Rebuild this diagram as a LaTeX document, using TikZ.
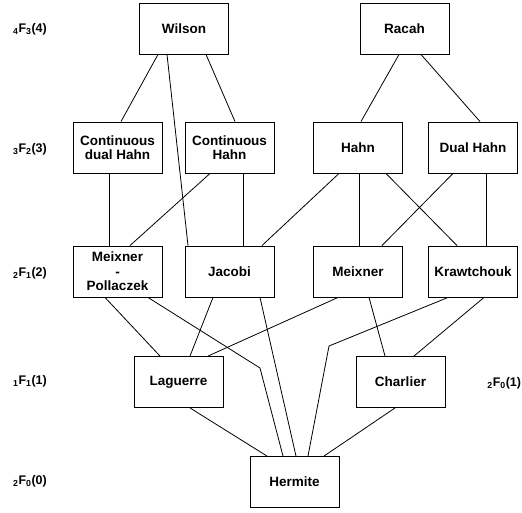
\documentclass[tikz,border=0pt]{standalone}
\usepackage{fontspec}
\setmainfont{Liberation Sans}
\usetikzlibrary{positioning}

\begin{document}
\begin{tikzpicture}[x=1pt, y=-1pt,
	box/.style={rectangle, draw, line width=0.9pt, minimum width=89pt, minimum height=51pt,
		inner sep=1pt, align=center, font=\fontsize{13.5}{14.5}\selectfont\bfseries},
	lvl/.style={font=\fontsize{12.5}{14}\selectfont\bfseries},
	line width=0.8pt]

\useasboundingbox (0,0) rectangle (522,512);

% Levels
\node[lvl] (L4) at (30,29) {\textsubscript{4}F\textsubscript{3}(4)};
\node[lvl] (L3) at (30,149) {\textsubscript{3}F\textsubscript{2}(3)};
\node[lvl] (L2) at (30,273) {\textsubscript{2}F\textsubscript{1}(2)};
\node[lvl] (L1) at (30,381) {\textsubscript{1}F\textsubscript{1}(1)};
\node[lvl] (L0) at (30,481) {\textsubscript{2}F\textsubscript{0}(0)};
\node[lvl, anchor=east, inner sep=0.5pt] (L1b) at (522,383) {\textsubscript{2}F\textsubscript{0}(1)};

% Nodes
\node[box] (Wilson) at (184,28.5) {Wilson};
\node[box] (Racah) at (404.5,28.5) {Racah};

\node[box] (CDH) at (117.5,147.5) {Continuous\\dual Hahn};
\node[box] (CH) at (229.5,147.5) {Continuous\\Hahn};
\node[box] (Hahn) at (358,147.5) {Hahn};
\node[box] (DHahn) at (473,147.5) {Dual Hahn};

\node[box] (MP) at (117.5,271.5) {Meixner\\-\\Pollaczek};
\node[box] (Jacobi) at (229.5,271.5) {Jacobi};
\node[box] (Meixner) at (358,271.5) {Meixner};
\node[box] (Kraw) at (473,271.5) {Krawtchouk};

\node[box] (Laguerre) at (178.5,382) {Laguerre};
\node[box] (Charlier) at (400.5,382) {Charlier};

\node[box] (Hermite) at (294.5,482) {Hermite};

\coordinate (b1) at (260,368);
\coordinate (b2) at (329,346);

% Limits
\draw ([xshift=-26pt]Wilson.south) -- ([xshift=3.5pt]CDH.north);
\draw ([xshift=22pt]Wilson.south) -- ([xshift=5.5pt]CH.north);
\draw ([xshift=-17pt]Wilson.south) -- ([xshift=-41.5pt]Jacobi.north);
\draw ([xshift=-5.5pt]Racah.south) -- ([xshift=3pt]Hahn.north);
\draw ([xshift=16.5pt]Racah.south) -- ([xshift=7pt]DHahn.north);

\draw ([xshift=-8.5pt]CDH.south) -- ([xshift=-8.5pt]MP.north);
\draw ([xshift=-19.5pt]CH.south) -- ([xshift=12.5pt]MP.north);
\draw ([xshift=13.5pt]CH.south) -- ([xshift=13.5pt]Jacobi.north);
\draw ([xshift=-19pt]Hahn.south) -- ([xshift=32.5pt]Jacobi.north);
\draw ([xshift=1pt]Hahn.south) -- ([xshift=1pt]Meixner.north);
\draw ([xshift=28pt]Hahn.south) -- ([xshift=-16pt]Kraw.north);
\draw ([xshift=-20pt]DHahn.south) -- ([xshift=24pt]Meixner.north);
\draw ([xshift=13pt]DHahn.south) -- ([xshift=13pt]Kraw.north);

\draw ([xshift=-12.5pt]MP.south) -- ([xshift=-18.5pt]Laguerre.north);
\draw ([xshift=30.5pt]MP.south) -- (b1) -- ([xshift=-11.5pt]Hermite.north);
\draw ([xshift=-16.5pt]Jacobi.south) -- ([xshift=11.5pt]Laguerre.north);
\draw ([xshift=30.5pt]Jacobi.south) -- ([xshift=1.5pt]Hermite.north);
\draw ([xshift=-20pt]Meixner.south) -- ([xshift=29.5pt]Laguerre.north);
\draw ([xshift=11pt]Meixner.south) -- ([xshift=-15.5pt]Charlier.north);
\draw ([xshift=-25pt]Kraw.south) -- (b2) -- ([xshift=13.5pt]Hermite.north);
\draw ([xshift=11pt]Kraw.south) -- ([xshift=13.5pt]Charlier.north);

\draw ([xshift=11.5pt]Laguerre.south) -- ([xshift=-27.5pt]Hermite.north);
\draw ([xshift=-5.5pt]Charlier.south) -- ([xshift=29.5pt]Hermite.north);
\end{tikzpicture}
\end{document}
